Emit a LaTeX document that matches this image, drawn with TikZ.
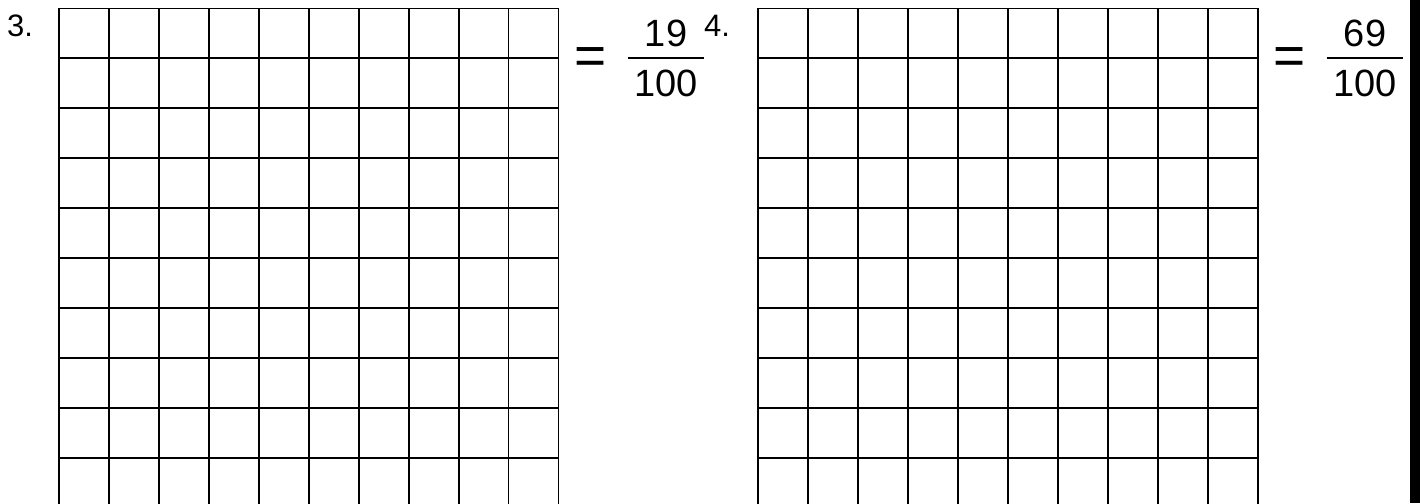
\documentclass[tikz,border=0pt]{standalone}
\usepackage{fontspec}
\setmainfont{Liberation Sans}
\begin{document}
\begin{tikzpicture}[x=1pt,y=1pt,
  gridline/.style={line width=1.8pt, line cap=rect},
  fracbar/.style={line width=1.8pt},
  lbl/.style={font=\fontsize{31}{31}\selectfont, inner sep=0pt, anchor=base west},
  num/.style={font=\fontsize{38}{38}\selectfont, inner sep=0pt, anchor=base},
  eqsign/.style={font=\fontsize{55}{55}\selectfont, inner sep=0pt, anchor=base}]
\useasboundingbox (0,0) rectangle (1420,503);
\begin{scope}
\clip (0,0) rectangle (1420,503);
\foreach \ox in {59,758.3} {
  \foreach \i in {0,...,10} \draw[gridline] (\ox+\i*49.95,494.5) -- (\ox+\i*49.95,-10);
  \foreach \j in {0,...,9} \draw[gridline] (\ox,494.5-\j*49.9) -- (\ox+499.5,494.5-\j*49.9);
}
\end{scope}
\node[lbl] (n3) at (7,466.5) {3.};
\node[lbl] (n4) at (704,466.5) {4.};
\node[eqsign] (eq1) at (591,428) {=};
\node[num] (a1) at (666,456) {19};
\coordinate (bar1l) at (627.7,444.7);
\coordinate (bar1r) at (704,444.7);
\draw[fracbar] (bar1l) -- (bar1r);
\node[num] (b1) at (666,406) {100};
\node[eqsign] (eq2) at (1289.5,428) {=};
\node[num] (a2) at (1365,456) {69};
\coordinate (bar2l) at (1326.7,444.7);
\coordinate (bar2r) at (1403,444.7);
\draw[fracbar] (bar2l) -- (bar2r);
\node[num] (b2) at (1365,406) {100};
\fill (1409.5,0) rectangle (1420,503);
\end{tikzpicture}
\end{document}
